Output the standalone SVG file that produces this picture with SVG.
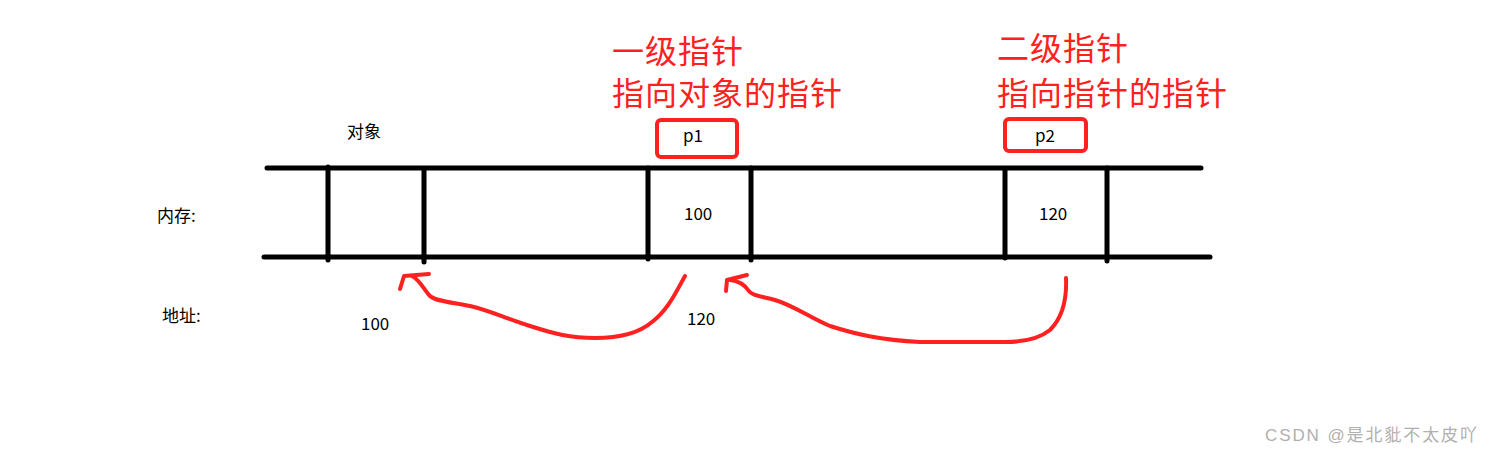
<svg xmlns="http://www.w3.org/2000/svg" width="1492" height="454" viewBox="0 0 1492 454">
<style>
.mem{stroke:#000;stroke-width:5;stroke-linecap:round;fill:none}
.t{font-family:"Microsoft YaHei","Noto Sans CJK SC","Liberation Sans",sans-serif;font-size:17px;fill:#000}
.red{font-family:"Noto Sans CJK SC",sans-serif;font-size:32px;letter-spacing:1px;fill:#ff2020}
.box{fill:none;stroke:#ff2020;stroke-width:4}
.arr{fill:none;stroke:#ff2020;stroke-width:4;stroke-linecap:round;stroke-linejoin:round}
.wm{font-family:"Liberation Sans","Noto Sans CJK SC",sans-serif;font-size:17px;fill:#b0b0b0}
</style>
<rect width="1492" height="454" fill="#fff"/>
<g id="memory">
<line class="mem" x1="267" y1="168" x2="1201" y2="168"/>
<line class="mem" x1="264" y1="257" x2="1210" y2="257"/>
<line class="mem" x1="328" y1="167" x2="328" y2="260"/>
<line class="mem" x1="424" y1="170" x2="424" y2="262"/>
<line class="mem" x1="648" y1="168" x2="648" y2="259"/>
<line class="mem" x1="751" y1="168" x2="751" y2="260"/>
<line class="mem" x1="1005" y1="170" x2="1005" y2="258"/>
<line class="mem" x1="1107" y1="168" x2="1107" y2="261"/>
</g>
<g id="labels">
<text class="t" x="347" y="138">对象</text>
<text class="t" x="157" y="222">内存:</text>
<text class="t" x="162" y="322">地址:</text>
<text class="t" x="361" y="330">100</text>
<text class="t" x="687" y="325">120</text>
<text class="t" x="684" y="220">100</text>
<text class="t" x="1039" y="220">120</text>
</g>
<g id="p1">
<text class="red" x="612" y="63">一级指针</text>
<text class="red" x="612" y="105">指向对象的指针</text>
<rect class="box" x="657" y="120" width="80" height="37" rx="4"/>
<text class="t" x="683" y="142">p1</text>
</g>
<g id="p2">
<text class="red" x="997" y="60">二级指针</text>
<text class="red" x="997" y="105">指向指针的指针</text>
<rect class="box" x="1005" y="119" width="81" height="32" rx="4"/>
<text class="t" x="1035" y="142">p2</text>
</g>
<g id="connectors">
<path class="arr" d="M685,276 C676,292 668,310 652,322 C638,334 618,338 595,338 C570,338 555,334 530,326 C505,318 488,310 470,306 C450,302 435,301 430,296 C424,290 420,280 412,276"/>
<path class="arr" d="M429,274 L404,276 L400,289"/>
<path class="arr" d="M1066,278 C1067,300 1062,318 1050,330 C1040,338 1025,342 1005,342 L920,342 C880,340 855,334 830,326 C810,318 795,306 775,300 C760,296 752,296 748,290 C744,284 738,281 730,280"/>
<path class="arr" d="M747,275 L727,280 L726,291"/>
</g>
<text class="wm" x="1265" y="441" textLength="212" lengthAdjust="spacing">CSDN @是北豼不太皮吖</text>
</svg>
